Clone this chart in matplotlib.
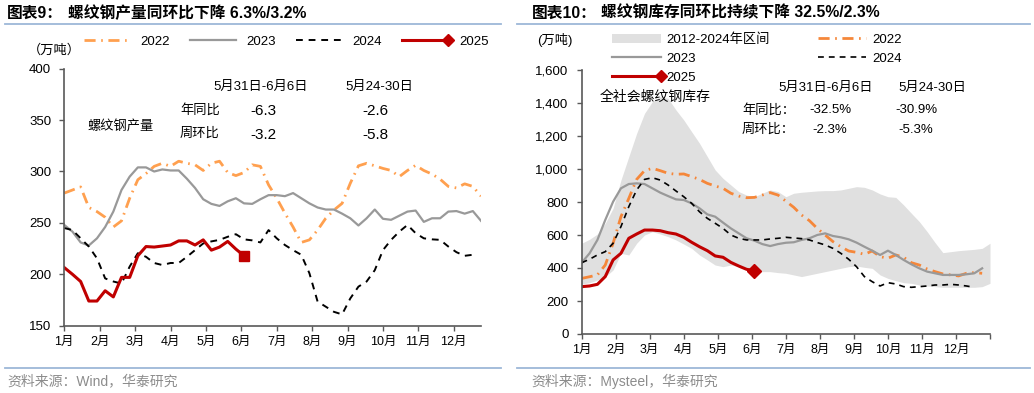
import numpy as np
import matplotlib as mplt
mplt.use("Agg")
import matplotlib.pyplot as plt
from matplotlib.lines import Line2D
from matplotlib.patches import Patch
from matplotlib.legend_handler import HandlerLine2D

plt.rcParams['font.family'] = ['Liberation Sans', 'Noto Sans CJK SC']
plt.rcParams['axes.unicode_minus'] = False

# ---- data: weekly values, week 0 = first week of Jan ----
months = ["1月", "2月", "3月", "4月", "5月", "6月", "7月", "8月", "9月", "10月", "11月", "12月"]

# left: rebar output (万吨)
prod_2022 = [279, 282, 285, 265, 261, 255.5, 246, 252, 274, 292, 298, 305, 308, 305, 310, 308, 306.5,
             301, 308, 310, 299, 296, 299, 306.5, 305, 287, 274, 259.5, 246, 231, 233.5, 243, 254.5,
             262.5, 269, 288.5, 305.5, 308, 305.5, 303, 301, 295, 301, 306, 301, 297.5, 292.5, 285.5,
             284, 288, 285.5, 276]
prod_2023 = [248, 241.5, 231, 228, 235, 246, 261, 282, 295, 304, 304, 300, 302, 301, 301, 293, 284,
             273, 268.5, 266.5, 271, 274, 269, 268.5, 273, 277, 277, 276, 279, 274, 269, 265, 263, 263,
             259, 254.5, 247.5, 254.5, 263, 254, 253, 257, 261, 262, 251, 254.5, 254.5, 261, 261.5,
             259, 261.5, 252]
prod_2024 = [245, 243, 235, 227, 215.5, 196, 193, 191, 207.5, 220.5, 217, 211, 209, 211, 211, 217,
             223.5, 230, 232, 233.5, 236.5, 239, 234, 233, 231, 243, 235, 228.5, 223.5, 219, 201, 173.5,
             168.5, 163.5, 161, 176.5, 188, 193, 204, 223.5, 233.5, 241.5, 248, 240, 235, 234, 233.5,
             227, 221.5, 218, 219]
prod_2025 = [206.5, 200, 193, 174, 174, 184, 178, 197, 197, 218, 227, 226.5, 227.5, 228.5, 232.5,
             232.5, 228.5, 233.5, 223.5, 226.5, 232, 224.5, 218]

# right: rebar social inventory (万吨)
inv_2022 = [337, 347, 358, 418, 550, 711, 822, 937, 990, 1004, 990, 974, 968, 970, 954, 937, 913, 897,
            883, 853, 836, 826, 828, 842, 857, 842, 805, 768, 721, 687, 640, 600, 560, 529, 503, 495,
            483, 503, 469, 459, 479, 465, 432, 418, 394, 378, 364, 358, 352, 368, 372, 368]
inv_2023 = [432, 489, 570, 691, 802, 883, 909, 913, 909, 883, 857, 836, 816, 812, 792, 762, 725, 711,
            675, 640, 610, 580, 566, 545, 533, 545, 553, 556, 570, 580, 600, 610, 594, 586, 574, 554,
            529, 505, 479, 505, 479, 449, 422, 398, 378, 368, 358, 358, 358, 362, 368, 398]
inv_2024 = [432, 453, 479, 499, 550, 651, 772, 873, 937, 947, 933, 903, 867, 832, 792, 741, 701, 671,
            640, 600, 580, 570, 570, 570, 576, 580, 586, 582, 578, 570, 554, 540, 519, 489, 453, 408,
            348, 317, 291, 311, 303, 287, 283, 287, 291, 297, 297, 301, 297, 291, 283]
inv_2025 = [287, 291, 301, 348, 449, 489, 580, 606, 630, 630, 626, 614, 606, 586, 556, 529, 505, 473,
            465, 434, 412, 392, 384]
band_hi = [550, 574, 606, 671, 762, 933, 1075, 1216, 1337, 1408, 1438, 1428, 1358, 1297, 1226, 1156,
           1075, 994, 943, 903, 863, 842, 832, 853, 873, 863, 832, 853, 859, 863, 867, 869, 869, 873,
           883, 893, 889, 873, 849, 832, 828, 782, 731, 681, 620, 554, 493, 499, 505, 509, 513, 519, 550]
band_lo = [303, 311, 327, 347, 388, 489, 479, 550, 600, 620, 606, 590, 570, 545, 519, 479, 449, 418,
           408, 418, 408, 388, 378, 378, 378, 372, 368, 358, 348, 358, 368, 378, 388, 398, 408, 412,
           404, 398, 358, 337, 323, 311, 307, 297, 291, 287, 283, 283, 283, 283, 283, 287, 307]

left_stats = [["年同比", "-6.3", "-2.6"], ["周环比", "-3.2", "-5.8"]]
right_stats = [["年同比：", "-32.5%", "-30.9%"], ["周环比：", "-2.3%", "-5.3%"]]

# ---- figure ----
W, H = 1034, 393
fig = plt.figure(figsize=(W / 100, H / 100), dpi=100)


def fx(x):
    return x / W


def fy(y):
    return 1 - y / H


c22_l = "#FFA04F"
c22_r = "#F5873A"
c23 = "#999999"
c24 = "black"
c25 = "#C00000"
spine_c = "#595959"
blue = "#9DB7D8"

ax1 = fig.add_axes([fx(64.3), fy(325.7), fx(481) - fx(64.3), (325.7 - 68.7) / H])
ax2 = fig.add_axes([fx(581.7), fy(334), fx(990) - fx(581.7), (334 - 70) / H])

wk_per_month = 52 / 12


def style(ax, nticks):
    for s in ["top", "right"]:
        ax.spines[s].set_visible(False)
    for s in ["left", "bottom"]:
        ax.spines[s].set_color(spine_c)
        ax.spines[s].set_linewidth(1.2)
    ax.set_xticks([k * wk_per_month for k in range(nticks)])
    ax.set_xticklabels((months + [""])[:nticks], fontsize=9)
    ax.tick_params(axis="x", length=3.5, width=1, color=spine_c, pad=4)
    ax.tick_params(axis="y", length=3.5, width=1, color=spine_c, labelsize=9.5, pad=6)


# left panel
ax1.plot(np.arange(len(prod_2022)), prod_2022, color=c22_l, lw=2.0, dashes=(4, 2, 0.6, 2))
ax1.plot(np.arange(len(prod_2023)), prod_2023, color=c23, lw=1.6)
ax1.plot(np.arange(len(prod_2024)), prod_2024, color=c24, lw=1.4, dashes=(3.5, 3))
ax1.plot(np.arange(len(prod_2025)), prod_2025, color=c25, lw=2.2)
ax1.plot([len(prod_2025) - 1], [prod_2025[-1]], marker="s", ms=7, color=c25, ls="none")
ax1.set_xlim(0, 51)
ax1.set_ylim(150, 400)
ax1.set_yticks([150, 200, 250, 300, 350, 400])
style(ax1, 12)

# right panel
ax2.fill_between(np.arange(len(band_hi)), band_lo, band_hi, color="#E0E0E0", lw=0)
ax2.plot(np.arange(len(inv_2022)), inv_2022, color=c22_r, lw=2.0, dashes=(4, 2, 0.6, 2))
ax2.plot(np.arange(len(inv_2023)), inv_2023, color=c23, lw=1.6)
ax2.plot(np.arange(len(inv_2024)), inv_2024, color=c24, lw=1.2, dashes=(3.5, 3))
ax2.plot(np.arange(len(inv_2025)), inv_2025, color=c25, lw=2.2)
ax2.plot([len(inv_2025) - 1], [inv_2025[-1]], marker="D", ms=7, color=c25, ls="none")
ax2.set_xlim(0, 52)
ax2.set_ylim(0, 1600)
ax2.set_yticks(np.arange(0, 1601, 200))
ax2.set_yticklabels([f"{v:,}" for v in range(0, 1601, 200)])
style(ax2, 13)


class EndMarker(HandlerLine2D):
    # put the legend marker at the right end of the line
    def create_artists(self, *args, **kwargs):
        arts = super().create_artists(*args, **kwargs)
        arts[0].set_markevery([2])
        return arts


def h25():
    return Line2D([], [], color=c25, lw=2.2, marker="D", ms=6)


h_l = [Line2D([], [], color=c22_l, lw=2.0, dashes=(4, 2, 0.6, 2)),
       Line2D([], [], color=c23, lw=1.6),
       Line2D([], [], color=c24, lw=1.4, dashes=(3.5, 3)),
       h25()]
ax1.legend(h_l, ["2022", "2023", "2024", "2025"], ncol=4, loc="center left",
           bbox_to_anchor=(fx(84), fy(42)), handlelength=3.5, handletextpad=0.8,
           columnspacing=1.5, frameon=False, fontsize=9.5, borderpad=0, borderaxespad=0,
           bbox_transform=fig.transFigure, handler_map={h_l[3]: EndMarker(numpoints=1)})

h_r = [Patch(color="#E0E0E0", lw=0),
       Line2D([], [], color=c23, lw=1.6),
       h25(),
       Line2D([], [], color=c22_r, lw=2.0, dashes=(4, 2, 0.6, 2)),
       Line2D([], [], color=c24, lw=1.2, dashes=(3.5, 3))]
ax2.legend(h_r, ["2012-2024年区间", "2023", "2025", "2022", "2024"], ncol=2, loc="center left",
           bbox_to_anchor=(fx(612), fy(58.5)), handlelength=3.7, handletextpad=0.45,
           columnspacing=3.6, labelspacing=0.5, frameon=False, fontsize=9.5, borderpad=0,
           borderaxespad=0, bbox_transform=fig.transFigure,
           handler_map={h_r[2]: EndMarker(numpoints=1)})

# titles
fig.text(fx(7), fy(13), "图表9：", fontsize=11.3, fontweight="bold", va="center")
fig.text(fx(68), fy(13), "螺纹钢产量同环比下降 6.3%/3.2%", fontsize=11.3, fontweight="bold", va="center")
fig.text(fx(532), fy(13), "图表10：", fontsize=11.3, fontweight="bold", va="center")
fig.text(fx(601), fy(13), "螺纹钢库存同环比持续下降 32.5%/2.3%", fontsize=11.3, fontweight="bold",
         va="center")

# separators
for y in (24, 368):
    fig.add_artist(Line2D([fx(5), fx(501)], [fy(y), fy(y)], color=blue, lw=1.3))
    fig.add_artist(Line2D([fx(517), fx(1030)], [fy(y), fy(y)], color=blue, lw=1.3))

# units
fig.text(fx(28), fy(50), "（万吨）", fontsize=9.5, va="center")
fig.text(fx(537), fy(40), "(万吨)", fontsize=9.5, va="center")

# left annotations
fig.text(fx(213), fy(87), "5月31日-6月6日", fontsize=9.5, va="center")
fig.text(fx(345), fy(87), "5月24-30日", fontsize=9.5, va="center")
fig.text(fx(87), fy(126), "螺纹钢产量", fontsize=9.5, va="center")
for row, yy in zip(left_stats, (110, 134)):
    fig.text(fx(180), fy(yy), row[0], fontsize=9.5, va="center")
    fig.text(fx(263), fy(yy + 1), row[1], fontsize=11, va="center", ha="center")
    fig.text(fx(375), fy(yy + 1), row[2], fontsize=11, va="center", ha="center")

# right annotations
fig.text(fx(600), fy(97), "全社会螺纹钢库存", fontsize=10, va="center")
fig.text(fx(778), fy(88), "5月31日-6月6日", fontsize=9.5, va="center")
fig.text(fx(898), fy(88), "5月24-30日", fontsize=9.5, va="center")
for row, yy in zip(right_stats, (110, 130)):
    fig.text(fx(742), fy(yy), row[0], fontsize=9.5, va="center")
    fig.text(fx(830), fy(yy), row[1], fontsize=9.5, va="center", ha="center")
    fig.text(fx(916), fy(yy), row[2], fontsize=9.5, va="center", ha="center")

# sources
fig.text(fx(7), fy(381), "资料来源：Wind，华泰研究", fontsize=10, color="#8C8C8C", va="center")
fig.text(fx(531), fy(381), "资料来源：Mysteel，华泰研究", fontsize=10, color="#8C8C8C", va="center")

fig.savefig("out.png", dpi=100)
